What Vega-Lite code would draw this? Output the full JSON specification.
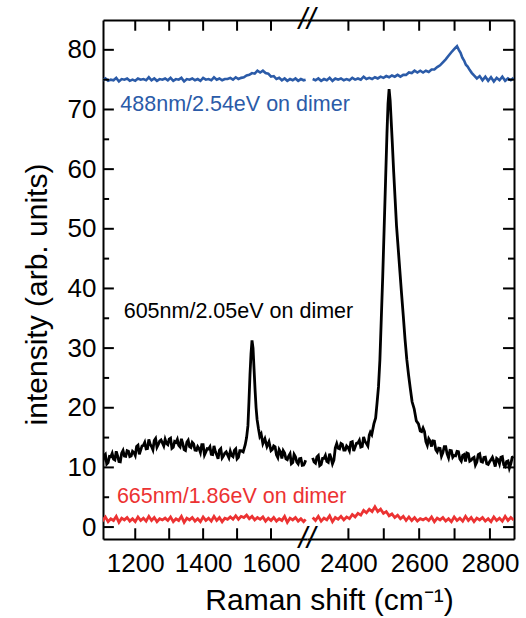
{
"$schema":"https://vega.github.io/schema/vega-lite/v6.json",
"padding":{"left":22,"top":5,"right":5,"bottom":4},
"bounds":"flush",
"spacing":0,
"config":{"view":{"stroke":null},"font":"Liberation Sans",
"axis":{"domainColor":"black","domainWidth":2,"labelFont":"Liberation Sans","labelFontSize":26,"labelColor":"black","titleFont":"Liberation Sans","titleFontSize":30,"titleFontWeight":"normal","titleColor":"black","grid":false,"labelOverlap":false,"labelFlush":false,"ticks":false,"tickSize":0}},
"datasets":{
"k":[{"x":1096,"y":11.8},{"x":1104,"y":10.9},{"x":1112,"y":12.2},{"x":1120,"y":10.8},{"x":1128,"y":11.8},{"x":1136,"y":11.4},{"x":1144,"y":12.7},{"x":1152,"y":11.0},{"x":1160,"y":12.4},{"x":1168,"y":11.9},{"x":1176,"y":12.8},{"x":1184,"y":11.8},{"x":1192,"y":12.7},{"x":1200,"y":12.0},{"x":1208,"y":13.7},{"x":1216,"y":12.9},{"x":1224,"y":13.7},{"x":1232,"y":13.1},{"x":1240,"y":14.7},{"x":1248,"y":13.5},{"x":1256,"y":14.5},{"x":1264,"y":13.4},{"x":1272,"y":14.4},{"x":1280,"y":14.1},{"x":1288,"y":14.7},{"x":1296,"y":13.8},{"x":1304,"y":14.9},{"x":1312,"y":13.4},{"x":1320,"y":14.2},{"x":1328,"y":13.7},{"x":1336,"y":14.8},{"x":1344,"y":13.0},{"x":1352,"y":14.2},{"x":1360,"y":13.5},{"x":1368,"y":14.2},{"x":1376,"y":12.9},{"x":1384,"y":13.5},{"x":1392,"y":12.5},{"x":1400,"y":13.8},{"x":1408,"y":12.6},{"x":1416,"y":13.1},{"x":1424,"y":12.2},{"x":1432,"y":13.6},{"x":1440,"y":12.1},{"x":1448,"y":12.9},{"x":1456,"y":11.6},{"x":1464,"y":12.4},{"x":1472,"y":12.1},{"x":1480,"y":12.7},{"x":1488,"y":11.8},{"x":1496,"y":13.1},{"x":1504,"y":11.7},{"x":1512,"y":12.8},{"x":1518,"y":12.6},{"x":1524,"y":13.8},{"x":1528,"y":15.0},{"x":1532,"y":17.0},{"x":1535,"y":21.0},{"x":1538,"y":25.5},{"x":1541,"y":29.0},{"x":1544,"y":31.3},{"x":1547,"y":30.0},{"x":1550,"y":26.5},{"x":1553,"y":23.0},{"x":1556,"y":20.0},{"x":1559,"y":18.0},{"x":1563,"y":16.5},{"x":1567,"y":15.2},{"x":1571,"y":15.6},{"x":1576,"y":14.0},{"x":1582,"y":14.8},{"x":1588,"y":13.5},{"x":1594,"y":14.3},{"x":1600,"y":12.8},{"x":1608,"y":13.6},{"x":1616,"y":12.1},{"x":1624,"y":13.0},{"x":1632,"y":11.5},{"x":1640,"y":12.4},{"x":1648,"y":11.3},{"x":1656,"y":12.3},{"x":1664,"y":10.8},{"x":1672,"y":11.8},{"x":1680,"y":10.6},{"x":1688,"y":11.5},{"x":1696,"y":10.4},{"x":1702,"y":11.2},
{"x":1100,"y":11.1},{"x":1108,"y":11.95},{"x":1116,"y":10.55},{"x":1124,"y":11.85},{"x":1132,"y":12.35},{"x":1140,"y":11.25},{"x":1148,"y":11.95},{"x":1156,"y":10.95},{"x":1164,"y":12.85},{"x":1172,"y":11.85},{"x":1180,"y":12.7},{"x":1188,"y":11.9},{"x":1196,"y":12.5},{"x":1204,"y":13.5},{"x":1212,"y":12.2},{"x":1220,"y":13.6},{"x":1228,"y":14.2},{"x":1236,"y":13.15},{"x":1244,"y":13.9},{"x":1252,"y":12.95},{"x":1260,"y":14.85},{"x":1268,"y":13.85},{"x":1276,"y":14.6},{"x":1284,"y":13.6},{"x":1292,"y":14.0},{"x":1300,"y":14.75},{"x":1308,"y":13.2},{"x":1316,"y":14.35},{"x":1324,"y":14.7},{"x":1332,"y":13.45},{"x":1340,"y":14.0},{"x":1348,"y":12.85},{"x":1356,"y":14.55},{"x":1364,"y":13.35},{"x":1372,"y":13.95},{"x":1380,"y":12.85},{"x":1388,"y":13.15},{"x":1396,"y":13.8},{"x":1404,"y":12.1},{"x":1412,"y":13.15},{"x":1420,"y":13.45},{"x":1428,"y":12.15},{"x":1436,"y":12.65},{"x":1444,"y":11.45},{"x":1452,"y":13.15},{"x":1460,"y":11.95},{"x":1468,"y":12.6},{"x":1476,"y":11.6},{"x":1484,"y":12.0},{"x":1492,"y":12.85},{"x":1500,"y":11.45},{"x":1508,"y":12.8},
{"x":1604,"y":13.0},{"x":1612,"y":13.45},{"x":1620,"y":11.65},{"x":1628,"y":12.6},{"x":1636,"y":12.8},{"x":1644,"y":11.45},{"x":1652,"y":11.9},{"x":1660,"y":10.6},{"x":1668,"y":12.2},{"x":1676,"y":10.9},{"x":1684,"y":11.45},{"x":1692,"y":10.35},{"x":1699,"y":10.7},
{"x":2299,"y":11.6},{"x":2307,"y":10.7},{"x":2315,"y":12.0},{"x":2323,"y":10.5},{"x":2331,"y":11.5},{"x":2339,"y":11.0},{"x":2347,"y":12.3},{"x":2355,"y":10.6},{"x":2363,"y":13.3},{"x":2371,"y":13.2},{"x":2379,"y":14.0},{"x":2387,"y":12.9},{"x":2395,"y":13.6},{"x":2403,"y":12.8},{"x":2411,"y":14.3},{"x":2419,"y":13.4},{"x":2427,"y":14.1},{"x":2435,"y":13.4},{"x":2443,"y":15.1},{"x":2451,"y":14.0},{"x":2459,"y":15.4},{"x":2466,"y":15.5},{"x":2472,"y":17.3},{"x":2477,"y":18.3},{"x":2481,"y":20.8},{"x":2485,"y":23.5},{"x":2489,"y":28},{"x":2493,"y":35},{"x":2497,"y":42},{"x":2501,"y":50},{"x":2505,"y":58},{"x":2509,"y":66},{"x":2512,"y":71},{"x":2515,"y":73.4},{"x":2518,"y":71.5},{"x":2521,"y":68},{"x":2524,"y":64.5},{"x":2528,"y":59.5},{"x":2532,"y":55},{"x":2536,"y":50.5},{"x":2541,"y":46.5},{"x":2546,"y":42.5},{"x":2550,"y":39.3},{"x":2555,"y":35.5},{"x":2560,"y":31.5},{"x":2565,"y":28.1},{"x":2570,"y":25.5},{"x":2575,"y":23.2},{"x":2580,"y":21.0},{"x":2586,"y":19.8},{"x":2592,"y":17.8},{"x":2598,"y":17.3},{"x":2603,"y":16.1},{"x":2611,"y":16.6},{"x":2619,"y":14.3},{"x":2627,"y":14.8},{"x":2635,"y":13.5},{"x":2643,"y":14.4},{"x":2651,"y":12.6},{"x":2659,"y":13.2},{"x":2667,"y":12.5},{"x":2675,"y":13.5},{"x":2683,"y":11.6},{"x":2691,"y":12.8},{"x":2699,"y":12.0},{"x":2707,"y":12.7},{"x":2715,"y":11.4},{"x":2723,"y":12.0},{"x":2731,"y":11.0},{"x":2739,"y":12.3},{"x":2747,"y":11.2},{"x":2755,"y":11.7},{"x":2763,"y":10.9},{"x":2771,"y":12.3},{"x":2779,"y":10.9},{"x":2787,"y":11.7},{"x":2795,"y":10.5},{"x":2803,"y":11.3},{"x":2811,"y":11.0},{"x":2819,"y":11.5},{"x":2827,"y":10.6},{"x":2835,"y":11.8},{"x":2843,"y":10.2},{"x":2851,"y":11.1},{"x":2859,"y":10.6},{"x":2867,"y":11.8},
{"x":2303,"y":10.9},{"x":2311,"y":11.75},{"x":2319,"y":10.3},{"x":2327,"y":11.5},{"x":2335,"y":12.0},{"x":2343,"y":10.85},{"x":2351,"y":11.55},{"x":2359,"y":11.2},{"x":2367,"y":14.0},{"x":2375,"y":13.1},{"x":2383,"y":13.85},{"x":2391,"y":12.9},{"x":2399,"y":13.35},{"x":2407,"y":14.2},{"x":2415,"y":12.75},{"x":2423,"y":14.05},{"x":2431,"y":14.55},{"x":2439,"y":13.5},{"x":2447,"y":14.35},{"x":2455,"y":13.6},{"x":2462,"y":15.9},
{"x":2607,"y":16.0},{"x":2615,"y":16.0},{"x":2623,"y":13.7},{"x":2631,"y":14.4},{"x":2639,"y":14.45},{"x":2647,"y":12.95},{"x":2655,"y":13.25},{"x":2663,"y":11.9},{"x":2671,"y":13.5},{"x":2679,"y":12.25},{"x":2687,"y":12.85},{"x":2695,"y":11.7},{"x":2703,"y":11.95},{"x":2711,"y":12.65},{"x":2719,"y":11.05},{"x":2727,"y":12.15},{"x":2735,"y":12.4},{"x":2743,"y":11.05},{"x":2751,"y":11.55},{"x":2759,"y":10.4},{"x":2767,"y":12.15},{"x":2775,"y":11.0},{"x":2783,"y":11.65},{"x":2791,"y":10.6},{"x":2799,"y":10.95},{"x":2807,"y":11.7},{"x":2815,"y":10.15},{"x":2823,"y":11.3},{"x":2831,"y":11.7},{"x":2839,"y":10.45},{"x":2847,"y":11.0},{"x":2855,"y":9.9},{"x":2863,"y":11.7}],
"b":[{"x":1096,"y":75.1},{"x":1104,"y":74.9},{"x":1112,"y":75.2},{"x":1120,"y":74.8},{"x":1128,"y":75.0},{"x":1136,"y":74.9},{"x":1144,"y":75.3},{"x":1152,"y":74.7},{"x":1160,"y":75.1},{"x":1168,"y":75.0},{"x":1176,"y":75.2},{"x":1184,"y":74.8},{"x":1192,"y":75.0},{"x":1200,"y":74.8},{"x":1208,"y":75.2},{"x":1216,"y":75.0},{"x":1224,"y":75.1},{"x":1232,"y":74.9},{"x":1240,"y":75.4},{"x":1248,"y":74.9},{"x":1256,"y":75.2},{"x":1264,"y":74.8},{"x":1272,"y":75.1},{"x":1280,"y":75.0},{"x":1288,"y":75.2},{"x":1296,"y":74.9},{"x":1304,"y":75.3},{"x":1312,"y":74.8},{"x":1320,"y":75.1},{"x":1328,"y":75.0},{"x":1336,"y":75.3},{"x":1344,"y":74.7},{"x":1352,"y":75.1},{"x":1360,"y":75.0},{"x":1368,"y":75.2},{"x":1376,"y":74.9},{"x":1384,"y":75.1},{"x":1392,"y":74.8},{"x":1400,"y":75.3},{"x":1408,"y":75.0},{"x":1416,"y":75.1},{"x":1424,"y":74.9},{"x":1432,"y":75.4},{"x":1440,"y":75.0},{"x":1448,"y":75.2},{"x":1456,"y":74.9},{"x":1464,"y":75.1},{"x":1472,"y":75.1},{"x":1480,"y":75.3},{"x":1488,"y":75.0},{"x":1496,"y":75.4},{"x":1504,"y":75.1},{"x":1512,"y":75.3},{"x":1520,"y":75.4},{"x":1528,"y":75.7},{"x":1536,"y":75.8},{"x":1544,"y":76.1},{"x":1552,"y":76.0},{"x":1560,"y":76.5},{"x":1568,"y":76.2},{"x":1576,"y":76.5},{"x":1584,"y":76.1},{"x":1592,"y":76.0},{"x":1600,"y":75.5},{"x":1608,"y":75.6},{"x":1616,"y":75.1},{"x":1624,"y":75.3},{"x":1632,"y":74.9},{"x":1640,"y":75.2},{"x":1648,"y":74.8},{"x":1656,"y":75.1},{"x":1664,"y":74.9},{"x":1672,"y":75.2},{"x":1680,"y":74.8},{"x":1688,"y":75.1},{"x":1696,"y":74.9},{"x":1702,"y":75.0},
{"x":2299,"y":75.1},{"x":2307,"y":74.9},{"x":2315,"y":75.2},{"x":2323,"y":74.8},{"x":2331,"y":75.1},{"x":2339,"y":74.9},{"x":2347,"y":75.3},{"x":2355,"y":74.8},{"x":2363,"y":75.2},{"x":2371,"y":75.0},{"x":2379,"y":75.2},{"x":2387,"y":74.9},{"x":2395,"y":75.1},{"x":2403,"y":74.9},{"x":2411,"y":75.3},{"x":2419,"y":75.0},{"x":2427,"y":75.2},{"x":2435,"y":75.0},{"x":2443,"y":75.5},{"x":2451,"y":75.1},{"x":2459,"y":75.3},{"x":2467,"y":75.1},{"x":2475,"y":75.4},{"x":2483,"y":75.2},{"x":2491,"y":75.5},{"x":2499,"y":75.3},{"x":2507,"y":75.6},{"x":2515,"y":75.4},{"x":2523,"y":75.7},{"x":2531,"y":75.5},{"x":2539,"y":75.8},{"x":2547,"y":75.5},{"x":2555,"y":75.8},{"x":2563,"y":75.8},{"x":2571,"y":76.2},{"x":2579,"y":76.1},{"x":2587,"y":76.5},{"x":2595,"y":76.2},{"x":2603,"y":76.5},{"x":2611,"y":76.2},{"x":2619,"y":76.5},{"x":2627,"y":76.3},{"x":2635,"y":76.7},{"x":2643,"y":76.7},{"x":2651,"y":77.1},{"x":2659,"y":77.4},{"x":2667,"y":77.9},{"x":2675,"y":78.4},{"x":2683,"y":79.0},{"x":2691,"y":79.6},{"x":2697,"y":80.0},{"x":2702,"y":80.3},{"x":2707,"y":80.6},{"x":2712,"y":80.0},{"x":2717,"y":79.5},{"x":2722,"y":78.7},{"x":2727,"y":78.2},{"x":2732,"y":77.5},{"x":2737,"y":77.2},{"x":2743,"y":76.6},{"x":2749,"y":76.1},{"x":2755,"y":75.7},{"x":2763,"y":75.2},{"x":2771,"y":75.6},{"x":2779,"y":74.9},{"x":2787,"y":75.5},{"x":2795,"y":74.8},{"x":2803,"y":75.4},{"x":2811,"y":74.7},{"x":2819,"y":75.3},{"x":2827,"y":74.9},{"x":2835,"y":75.5},{"x":2843,"y":74.8},{"x":2851,"y":75.2},{"x":2859,"y":74.9},{"x":2867,"y":75.3}],
"r":[{"x":1096,"y":1.5},{"x":1104,"y":1.1},{"x":1112,"y":1.7},{"x":1120,"y":0.9},{"x":1128,"y":1.4},{"x":1136,"y":1.1},{"x":1144,"y":1.8},{"x":1152,"y":0.8},{"x":1160,"y":1.5},{"x":1168,"y":1.2},{"x":1176,"y":1.6},{"x":1184,"y":1.0},{"x":1192,"y":1.4},{"x":1200,"y":0.9},{"x":1208,"y":1.7},{"x":1216,"y":1.1},{"x":1224,"y":1.5},{"x":1232,"y":1.0},{"x":1240,"y":1.8},{"x":1248,"y":1.1},{"x":1256,"y":1.6},{"x":1264,"y":0.9},{"x":1272,"y":1.4},{"x":1280,"y":1.2},{"x":1288,"y":1.5},{"x":1296,"y":1.1},{"x":1304,"y":1.7},{"x":1312,"y":0.9},{"x":1320,"y":1.4},{"x":1328,"y":1.1},{"x":1336,"y":1.8},{"x":1344,"y":0.8},{"x":1352,"y":1.5},{"x":1360,"y":1.2},{"x":1368,"y":1.6},{"x":1376,"y":1.0},{"x":1384,"y":1.4},{"x":1392,"y":0.9},{"x":1400,"y":1.7},{"x":1408,"y":1.1},{"x":1416,"y":1.5},{"x":1424,"y":1.0},{"x":1432,"y":1.8},{"x":1440,"y":1.1},{"x":1448,"y":1.6},{"x":1456,"y":0.9},{"x":1464,"y":1.5},{"x":1472,"y":1.3},{"x":1480,"y":1.7},{"x":1488,"y":1.3},{"x":1496,"y":1.9},{"x":1504,"y":1.3},{"x":1512,"y":1.8},{"x":1520,"y":1.6},{"x":1528,"y":2.0},{"x":1536,"y":1.4},{"x":1544,"y":1.8},{"x":1552,"y":1.2},{"x":1560,"y":1.6},{"x":1568,"y":1.3},{"x":1576,"y":1.7},{"x":1584,"y":1.0},{"x":1592,"y":1.5},{"x":1600,"y":1.1},{"x":1608,"y":1.6},{"x":1616,"y":1.0},{"x":1624,"y":1.4},{"x":1632,"y":1.1},{"x":1640,"y":1.8},{"x":1648,"y":0.8},{"x":1656,"y":1.5},{"x":1664,"y":1.2},{"x":1672,"y":1.6},{"x":1680,"y":1.0},{"x":1688,"y":1.4},{"x":1696,"y":0.9},{"x":1702,"y":1.3},
{"x":2299,"y":1.6},{"x":2307,"y":1.1},{"x":2315,"y":1.8},{"x":2323,"y":1.0},{"x":2331,"y":1.5},{"x":2339,"y":1.2},{"x":2347,"y":1.9},{"x":2355,"y":0.9},{"x":2363,"y":1.6},{"x":2371,"y":1.3},{"x":2379,"y":1.8},{"x":2387,"y":1.2},{"x":2395,"y":1.7},{"x":2403,"y":1.4},{"x":2411,"y":2.1},{"x":2419,"y":1.7},{"x":2427,"y":2.3},{"x":2435,"y":2.0},{"x":2443,"y":2.8},{"x":2451,"y":2.4},{"x":2459,"y":3.0},{"x":2467,"y":2.6},{"x":2475,"y":3.4},{"x":2483,"y":2.6},{"x":2491,"y":3.0},{"x":2499,"y":2.3},{"x":2507,"y":2.6},{"x":2515,"y":1.9},{"x":2523,"y":2.2},{"x":2531,"y":1.6},{"x":2539,"y":2.0},{"x":2547,"y":1.4},{"x":2555,"y":1.8},{"x":2563,"y":1.1},{"x":2571,"y":1.7},{"x":2579,"y":1.1},{"x":2587,"y":1.6},{"x":2595,"y":1.0},{"x":2603,"y":1.4},{"x":2611,"y":1.2},{"x":2619,"y":1.5},{"x":2627,"y":1.1},{"x":2635,"y":1.7},{"x":2643,"y":0.9},{"x":2651,"y":1.5},{"x":2659,"y":1.2},{"x":2667,"y":1.6},{"x":2675,"y":1.0},{"x":2683,"y":1.4},{"x":2691,"y":0.9},{"x":2699,"y":1.7},{"x":2707,"y":1.1},{"x":2715,"y":1.5},{"x":2723,"y":1.0},{"x":2731,"y":1.8},{"x":2739,"y":1.1},{"x":2747,"y":1.6},{"x":2755,"y":0.9},{"x":2763,"y":1.5},{"x":2771,"y":1.2},{"x":2779,"y":1.6},{"x":2787,"y":1.0},{"x":2795,"y":1.4},{"x":2803,"y":0.9},{"x":2811,"y":1.7},{"x":2819,"y":1.1},{"x":2827,"y":1.5},{"x":2835,"y":1.0},{"x":2843,"y":1.8},{"x":2851,"y":1.1},{"x":2859,"y":1.6},{"x":2867,"y":1.2}],
"labels":[{"x":1156,"y":69.7,"t":"488nm/2.54eV on dimer","c":"b"},{"x":1166,"y":35.1,"t":"605nm/2.05eV on dimer","c":"k"},{"x":1146,"y":4.1,"t":"665nm/1.86eV on dimer","c":"r"}],
"breaks":[{"x":1706,"y":85},{"x":1706,"y":-2}],
"xtL":[{"v":1200},{"v":1300},{"v":1400},{"v":1500},{"v":1600}],
"xtR":[{"v":2400},{"v":2500},{"v":2600},{"v":2700},{"v":2800}],
"ytMaj":[{"v":0},{"v":10},{"v":20},{"v":30},{"v":40},{"v":50},{"v":60},{"v":70},{"v":80}],
"ytMin":[{"v":5},{"v":15},{"v":25},{"v":35},{"v":45},{"v":55},{"v":65},{"v":75}]
},
"hconcat":[
{"width":204,"height":519,
"layer":[
{"data":{"name":"k"},"transform":[{"filter":"datum.x < 2000"}],"mark":{"type":"line","color":"black","strokeWidth":2.8,"clip":true},
"encoding":{"x":{"field":"x","type":"quantitative","scale":{"domain":[1105,1706],"nice":false,"zero":false},
"axis":{"orient":"bottom","values":[1200,1400,1600],"format":"d","labelPadding":11,"title":"Raman shift (cm⁻¹)","titleX":226,"titleY":70,"titleBaseline":"alphabetic","titleAlign":"center"}},
"y":{"field":"y","type":"quantitative","scale":{"domain":[-2,85],"nice":false,"zero":false},
"axis":{"orient":"left","values":[0,10,20,30,40,50,60,70,80],"labelPadding":7,"title":"intensity (arb. units)","titleX":-57,"titleY":274,"titleAngle":-90,"titleBaseline":"alphabetic","titleAlign":"center"}}}},
{"data":{"name":"b"},"transform":[{"filter":"datum.x < 2000"}],"mark":{"type":"line","color":"#2b5ba8","strokeWidth":2.6,"clip":true},
"encoding":{"x":{"field":"x","type":"quantitative","axis":{"orient":"top","values":[1200],"labels":false,"title":null}},
"y":{"field":"y","type":"quantitative","axis":null}}},
{"data":{"name":"r"},"transform":[{"filter":"datum.x < 2000"}],"mark":{"type":"line","color":"#ec3232","strokeWidth":2.8,"clip":true},
"encoding":{"x":{"field":"x","type":"quantitative","axis":null},"y":{"field":"y","type":"quantitative","axis":null}}},
{"data":{"name":"xtL"},"mark":{"type":"rule","color":"black","strokeWidth":2},
"encoding":{"x":{"field":"v","type":"quantitative","axis":null},"y":{"datum":-2,"type":"quantitative","axis":null},"y2":{"datum":-0.2}}},
{"data":{"name":"xtL"},"mark":{"type":"rule","color":"black","strokeWidth":2},
"encoding":{"x":{"field":"v","type":"quantitative","axis":null},"y":{"datum":85,"type":"quantitative","axis":null},"y2":{"datum":83.2}}},
{"data":{"name":"ytMaj"},"mark":{"type":"rule","color":"black","strokeWidth":2},
"encoding":{"y":{"field":"v","type":"quantitative","axis":null},"x":{"datum":1105,"type":"quantitative","axis":null},"x2":{"datum":1137}}},
{"data":{"name":"ytMin"},"mark":{"type":"rule","color":"black","strokeWidth":2},
"encoding":{"y":{"field":"v","type":"quantitative","axis":null},"x":{"datum":1105,"type":"quantitative","axis":null},"x2":{"datum":1123}}},
{"data":{"name":"labels"},"mark":{"type":"text","align":"left","baseline":"alphabetic","fontSize":21.5,"font":"Liberation Sans"},
"encoding":{"x":{"field":"x","type":"quantitative","axis":null},"y":{"field":"y","type":"quantitative","axis":null},"text":{"field":"t"},
"color":{"field":"c","type":"nominal","scale":{"domain":["b","k","r"],"range":["#2b5ba8","#000000","#ec3232"]},"legend":null}}},
{"data":{"name":"breaks"},"mark":{"type":"text","text":"//","align":"center","baseline":"middle","fontSize":30,"fontStyle":"italic","color":"black","font":"Liberation Sans"},
"encoding":{"x":{"field":"x","type":"quantitative","axis":null},"y":{"field":"y","type":"quantitative","axis":null}}}
],
"resolve":{"axis":{"x":"independent","y":"independent"}}},
{"width":207,"height":519,
"layer":[
{"data":{"name":"k"},"transform":[{"filter":"datum.x > 2000"}],"mark":{"type":"line","color":"black","strokeWidth":2.8,"clip":true},
"encoding":{"x":{"field":"x","type":"quantitative","scale":{"domain":[2283,2868],"nice":false,"zero":false},
"axis":{"orient":"bottom","values":[2400,2600,2800],"format":"d","labelPadding":11,"title":null}},
"y":{"field":"y","type":"quantitative","scale":{"domain":[-2,85],"nice":false,"zero":false},
"axis":{"orient":"right","values":[0],"labels":false,"title":null}}}},
{"data":{"name":"b"},"transform":[{"filter":"datum.x > 2000"}],"mark":{"type":"line","color":"#2b5ba8","strokeWidth":2.6,"clip":true},
"encoding":{"x":{"field":"x","type":"quantitative","axis":{"orient":"top","values":[2400],"labels":false,"title":null}},
"y":{"field":"y","type":"quantitative","axis":null}}},
{"data":{"name":"r"},"transform":[{"filter":"datum.x > 2000"}],"mark":{"type":"line","color":"#ec3232","strokeWidth":2.8,"clip":true},
"encoding":{"x":{"field":"x","type":"quantitative","axis":null},"y":{"field":"y","type":"quantitative","axis":null}}},
{"data":{"name":"xtR"},"mark":{"type":"rule","color":"black","strokeWidth":2},
"encoding":{"x":{"field":"v","type":"quantitative","axis":null},"y":{"datum":-2,"type":"quantitative","axis":null},"y2":{"datum":-0.2}}},
{"data":{"name":"xtR"},"mark":{"type":"rule","color":"black","strokeWidth":2},
"encoding":{"x":{"field":"v","type":"quantitative","axis":null},"y":{"datum":85,"type":"quantitative","axis":null},"y2":{"datum":83.2}}},
{"data":{"name":"ytMaj"},"mark":{"type":"rule","color":"black","strokeWidth":2},
"encoding":{"y":{"field":"v","type":"quantitative","axis":null},"x":{"datum":2868,"type":"quantitative","axis":null},"x2":{"datum":2837}}},
{"data":{"name":"ytMin"},"mark":{"type":"rule","color":"black","strokeWidth":2},
"encoding":{"y":{"field":"v","type":"quantitative","axis":null},"x":{"datum":2868,"type":"quantitative","axis":null},"x2":{"datum":2851}}}
],
"resolve":{"axis":{"x":"independent","y":"independent"}}}
]
}
